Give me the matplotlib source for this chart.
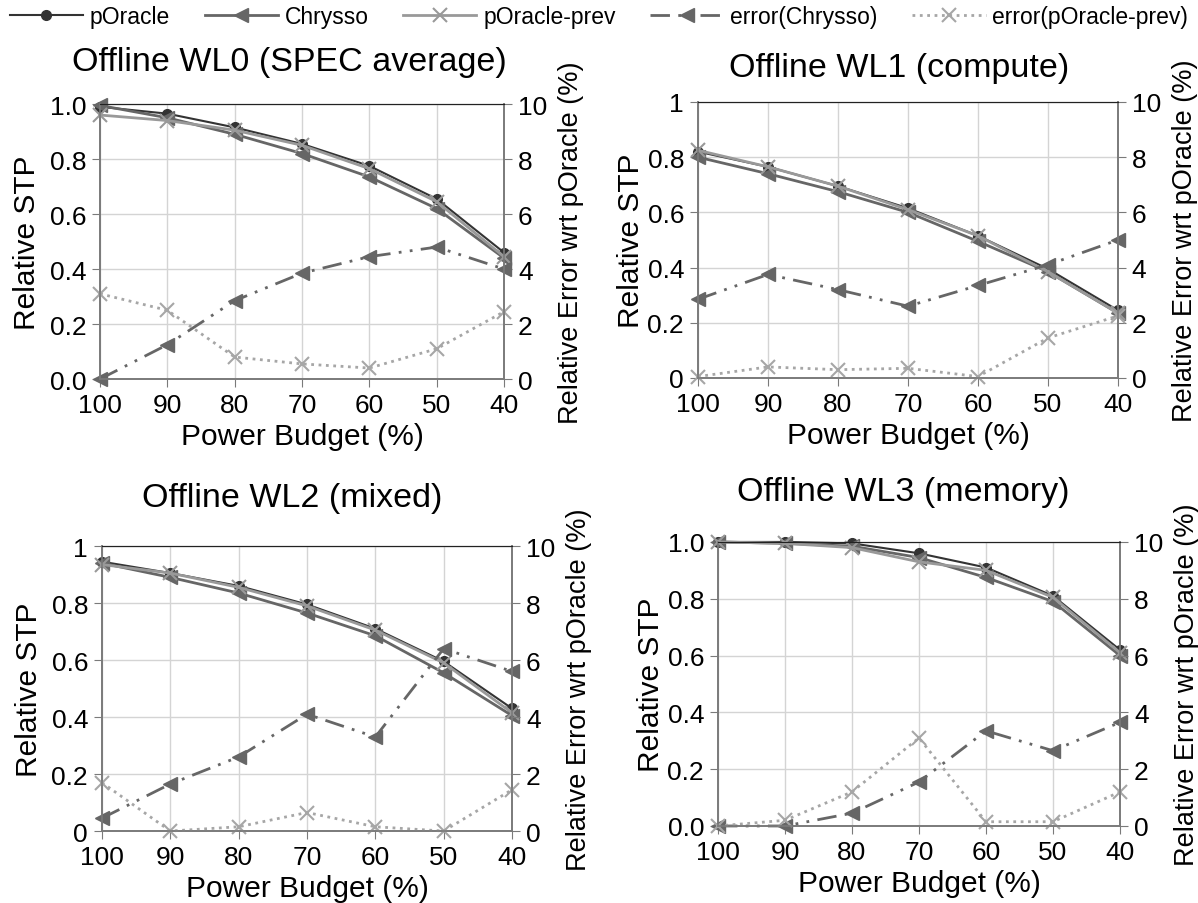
import numpy as np
import matplotlib.pyplot as plt
from matplotlib.lines import Line2D

plt.rcParams['font.family'] = ['Liberation Sans', 'DejaVu Sans']

budget = [100, 90, 80, 70, 60, 50, 40]

# relative STP per workload
wl0_poracle = [0.99, 0.965, 0.915, 0.855, 0.775, 0.655, 0.46]
wl0_chrysso = [0.995, 0.95, 0.89, 0.82, 0.735, 0.62, 0.44]
wl0_prev = [0.96, 0.94, 0.905, 0.85, 0.765, 0.645, 0.445]
wl0_err_chrysso = [0.0, 1.25, 2.85, 3.85, 4.45, 4.8, 4.0]
wl0_err_prev = [3.1, 2.5, 0.8, 0.55, 0.4, 1.1, 2.45]

wl1_poracle = [0.82, 0.765, 0.695, 0.615, 0.515, 0.395, 0.245]
wl1_chrysso = [0.80, 0.74, 0.675, 0.60, 0.495, 0.385, 0.235]
wl1_prev = [0.825, 0.765, 0.695, 0.61, 0.515, 0.385, 0.235]
wl1_err_chrysso = [2.85, 3.75, 3.2, 2.6, 3.35, 4.1, 5.0]
wl1_err_prev = [0.05, 0.4, 0.3, 0.35, 0.05, 1.45, 2.25]

wl2_poracle = [0.945, 0.905, 0.86, 0.795, 0.71, 0.595, 0.43]
wl2_chrysso = [0.94, 0.89, 0.835, 0.765, 0.685, 0.555, 0.405]
wl2_prev = [0.935, 0.905, 0.855, 0.79, 0.705, 0.59, 0.415]
wl2_err_chrysso = [0.45, 1.65, 2.6, 4.1, 3.3, 6.4, 5.6]
wl2_err_prev = [1.7, 0.0, 0.15, 0.65, 0.15, 0.0, 1.45]

wl3_poracle = [1.0, 1.0, 0.995, 0.96, 0.91, 0.81, 0.62]
wl3_chrysso = [1.0, 0.995, 0.985, 0.945, 0.875, 0.79, 0.60]
wl3_prev = [1.0, 0.995, 0.98, 0.93, 0.90, 0.805, 0.61]
wl3_err_chrysso = [0.0, 0.0, 0.45, 1.55, 3.35, 2.65, 3.65]
wl3_err_prev = [0.0, 0.2, 1.2, 3.1, 0.15, 0.15, 1.2]

titles = ["Offline WL0 (SPEC average)", "Offline WL1 (compute)",
          "Offline WL2 (mixed)", "Offline WL3 (memory)"]
names = ["pOracle", "Chrysso", "pOracle-prev", "error(Chrysso)", "error(pOracle-prev)"]

C_OR = "#333333"
C_CH = "#666666"
C_PR = "#999999"
C_EP = "#a6a6a6"
DASH_DDOT = (0, (7, 3, 1, 3, 1, 3))

st_or = dict(color=C_OR, lw=1.5, marker="o", ms=7)
st_ch = dict(color=C_CH, lw=2, marker="<", ms=10)
st_pr = dict(color=C_PR, lw=2, marker="x", ms=10, mew=1.5)
st_ec = dict(color=C_CH, lw=2, ls=DASH_DDOT, marker="<", ms=10)
st_ep = dict(color=C_EP, lw=2, ls=":", marker="x", ms=10, mew=1.5)


def panel(rect, title, tx, ty, poracle, chrysso, prev, err_c, err_p, fmt, ylpad):
    ax = fig.add_axes(rect)
    ax2 = ax.twinx()
    ax.plot(budget, poracle, clip_on=False, zorder=3, **st_or)
    ax.plot(budget, chrysso, clip_on=False, zorder=4, **st_ch)
    ax.plot(budget, prev, clip_on=False, zorder=5, **st_pr)
    ax2.plot(budget, err_c, clip_on=False, **st_ec)
    ax2.plot(budget, err_p, clip_on=False, **st_ep)

    ax.set_xlim(100, 40)
    ax.set_ylim(0, 1)
    ax2.set_ylim(0, 10)
    ax.set_xticks(budget)
    yt = np.arange(0, 1.01, 0.2)
    ax.set_yticks(yt)
    if fmt == "fixed":
        ax.set_yticklabels(["%.1f" % v for v in yt])
    else:
        ax.set_yticklabels(["0", "0.2", "0.4", "0.6", "0.8", "1"])
    ax2.set_yticks([0, 2, 4, 6, 8, 10])
    ax.grid(True, color="#d4d4d4", lw=1)
    ax.set_axisbelow(True)

    for a in (ax, ax2):
        for s in ("left", "right", "bottom"):
            a.spines[s].set_color("#7a7a7a")
            a.spines[s].set_linewidth(1.2)
        a.spines["top"].set_color("#222222")
        a.tick_params(direction="out", length=6, color="#7a7a7a",
                      labelsize=19, pad=4)
    ax.set_xlabel("Power Budget (%)", fontsize=21.5, labelpad=4)
    ax.set_ylabel("Relative STP", fontsize=21.5, labelpad=ylpad)
    ax2.set_ylabel("Relative Error wrt pOracle (%)", fontsize=19.5, labelpad=8)
    fig.text(tx / 1198, 1 - ty / 904, title, fontsize=24.5,
             ha="center", va="center")
    return ax


fig = plt.figure(figsize=(11.98, 9.04), dpi=100)

panel([0.0835, 0.5796, 0.3372, 0.3042], titles[0], 289, 62,
      wl0_poracle, wl0_chrysso, wl0_prev, wl0_err_chrysso, wl0_err_prev, "fixed", 6)
panel([0.5826, 0.5808, 0.3506, 0.3053], titles[1], 899, 68,
      wl1_poracle, wl1_chrysso, wl1_prev, wl1_err_chrysso, wl1_err_prev, "plain", 2)
panel([0.0851, 0.0796, 0.3423, 0.3153], titles[2], 292, 498,
      wl2_poracle, wl2_chrysso, wl2_prev, wl2_err_chrysso, wl2_err_prev, "plain", 6)
panel([0.5993, 0.0852, 0.3356, 0.3142], titles[3], 903, 493,
      wl3_poracle, wl3_chrysso, wl3_prev, wl3_err_chrysso, wl3_err_prev, "fixed", 2)

handles = [Line2D([], [], **st_or), Line2D([], [], **st_ch), Line2D([], [], **st_pr),
           Line2D([], [], **st_ec), Line2D([], [], **st_ep)]
fig.legend(handles, names, loc="center", bbox_to_anchor=(0.5, 0.981), ncol=5,
           frameon=False, fontsize=16.5, handlelength=3.2, handletextpad=0.3,
           columnspacing=1.5, borderaxespad=0)

fig.savefig("out.png", dpi=100)
